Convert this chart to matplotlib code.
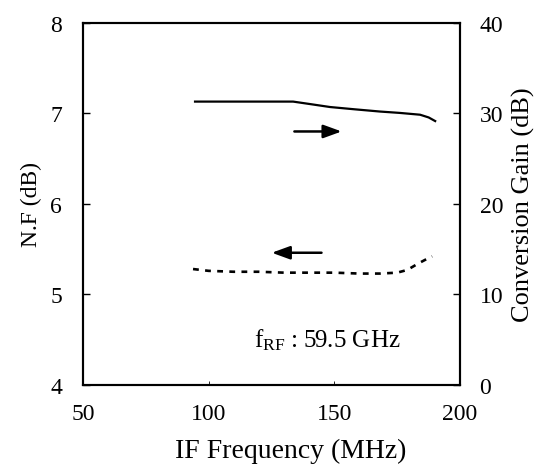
import matplotlib
matplotlib.use('Agg')
import matplotlib.pyplot as plt

plt.rcParams['font.family'] = ['Liberation Serif', 'DejaVu Serif']

# conversion gain (right axis), solid line
gain_if = [94.6, 110, 125, 133.6, 141, 148.3, 158, 168.2, 176, 184.1, 187.5, 190.1]
gain_db = [31.3, 31.3, 31.3, 31.3, 31.0, 30.7, 30.45, 30.2, 30.05, 29.85, 29.55, 29.15]

# noise figure (left axis), dotted line
nf_if = [93.8, 100, 110, 120, 130, 140, 150, 160, 168.2, 175, 179, 183.3, 186, 188.9]
nf_db = [5.28, 5.26, 5.25, 5.25, 5.24, 5.24, 5.24, 5.23, 5.23, 5.24, 5.27, 5.34, 5.38, 5.42]

x_ticks = [50, 100, 150, 200]
nf_ticks = [4, 5, 6, 7, 8]
gain_ticks = [0, 10, 20, 30, 40]

fig = plt.figure(figsize=(5.49, 4.77), dpi=100)
ax = fig.add_axes([0.151, 0.191, 0.687, 0.759])
ax2 = ax.twinx()

ax.plot(nf_if, nf_db, color='black', lw=1.9, linestyle=(0, (2.2, 2.4)))
ax2.plot(gain_if, gain_db, color='black', lw=1.6)

ax.set_xlim(50, 200)
ax.set_ylim(4, 8)
ax2.set_ylim(0, 40)
ax.set_xticks(x_ticks)
ax.set_yticks(nf_ticks)
ax2.set_yticks(gain_ticks)

for a in (ax, ax2):
    for s in a.spines.values():
        s.set_linewidth(1.5)
ax.tick_params(axis='both', direction='in', length=5, width=1.0, labelsize=17)
ax.tick_params(axis='y', pad=15)
ax.tick_params(axis='x', pad=13, length=3, width=0.6)
ax2.tick_params(axis='y', direction='in', length=5, width=1.0, labelsize=17, pad=14)

ax.set_xlabel('IF Frequency (MHz)', fontsize=20)
ax.xaxis.set_label_coords(0.55, -0.145)
ax.set_ylabel('N.F (dB)', fontsize=17, labelpad=6)
ax2.set_ylabel('Conversion Gain (dB)', fontsize=19, labelpad=6)

# arrows pointing to the axis each curve belongs to
head = '-|>,head_length=1.1,head_width=0.4'
ax2.annotate('', xy=(154, 28.0), xytext=(133, 28.0),
             arrowprops=dict(arrowstyle=head, color='black', lw=1.8))
ax.annotate('', xy=(124, 5.46), xytext=(146, 5.46),
            arrowprops=dict(arrowstyle=head, color='black', lw=1.8))

ax.text(118, 4.5, r'$\mathregular{f_{RF}}$ : 59.5 GHz', fontsize=18,
        ha='left', va='center')

fig.savefig('out.png', dpi=100)
